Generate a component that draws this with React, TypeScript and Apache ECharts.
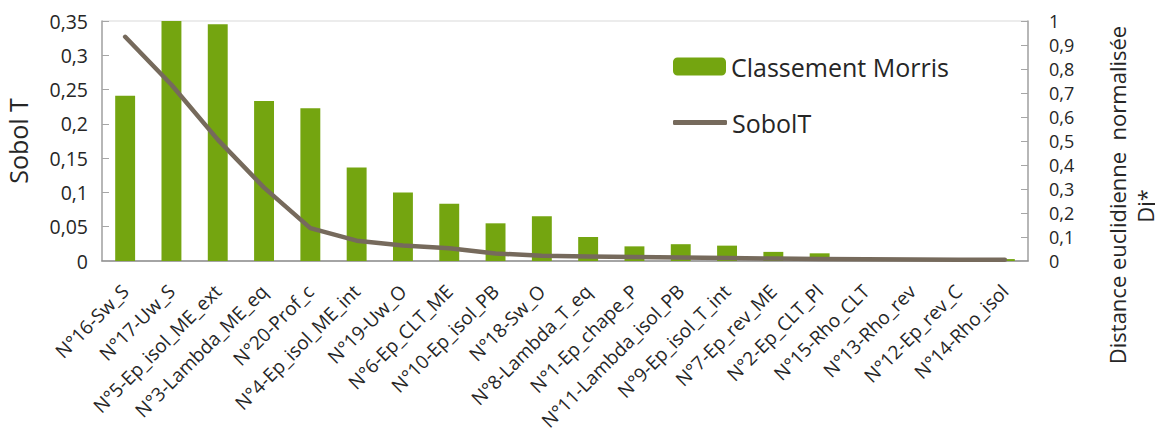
import React, { useEffect, useRef } from "react";
import * as echarts from "echarts";

const categories = [
  "N°16-Sw_S", "N°17-Uw_S", "N°5-Ep_isol_ME_ext", "N°3-Lambda_ME_eq", "N°20-Prof_c",
  "N°4-Ep_isol_ME_int", "N°19-Uw_O", "N°6-Ep_CLT_ME", "N°10-Ep_isol_PB", "N°18-Sw_O",
  "N°8-Lambda_T_eq", "N°1-Ep_chape_P", "N°11-Lambda_isol_PB", "N°9-Ep_isol_T_int", "N°7-Ep_rev_ME",
  "N°2-Ep_CLT_Pl", "N°15-Rho_CLT", "N°13-Rho_rev", "N°12-Ep_rev_C", "N°14-Rho_isol",
];

// Classement Morris (right axis, normalised distance Dj*)
const morris = [
  0.689, 1.0, 0.986, 0.667, 0.636, 0.39, 0.285, 0.239, 0.157, 0.186,
  0.1, 0.061, 0.07, 0.064, 0.038, 0.032, 0.008, 0.002, 0.008, 0.008,
];

// SobolT (left axis)
const sobolT = [
  0.327, 0.257, 0.177, 0.107, 0.048, 0.0296, 0.0225, 0.0185, 0.011, 0.0075,
  0.0065, 0.0058, 0.0052, 0.0045, 0.0035, 0.003, 0.0025, 0.0022, 0.002, 0.002,
];

const leftTicks = { min: 0, max: 0.35, interval: 0.05 };
const rightTicks = { min: 0, max: 1, interval: 0.1 };
const rightNameLines = ["Distance euclidienne  normalisée", "Dj*"];

const FONT = "'Open Sans', 'Noto Sans', sans-serif";
const TEXT = "#262626";

export default function App() {
  const ref = useRef<HTMLDivElement>(null);
  useEffect(() => {
    if (!ref.current) return;
    const chart = echarts.init(ref.current, undefined, { renderer: "svg" });
    const fmt = (v: number) => String(Math.round(v * 100) / 100).replace(".", ",");
    const legendText = { fontSize: 25, color: TEXT, fontFamily: FONT };
    chart.setOption({
      animation: false,
      textStyle: { fontFamily: FONT },
      grid: {
        left: 102,
        right: 135,
        top: 21,
        bottom: 178,
        show: true,
        borderColor: "#D9D9D9",
        borderWidth: 1,
        containLabel: false,
        outerBoundsMode: "none",
      },
      legend: [
        {
          left: 673,
          top: 54,
          padding: 0,
          itemWidth: 53,
          itemHeight: 18,
          textStyle: legendText,
          data: ["Classement Morris"],
        },
        {
          left: 673,
          top: 110,
          padding: 0,
          itemWidth: 54,
          itemHeight: 5,
          icon: "roundRect",
          textStyle: legendText,
          data: ["SobolT"],
        },
      ],
      graphic: [
        {
          type: "text",
          x: 1117,
          y: 195,
          rotation: Math.PI / 2,
          style: {
            text: rightNameLines[0],
            fontSize: 22,
            fontFamily: FONT,
            fill: TEXT,
            align: "center",
            verticalAlign: "middle",
          },
        },
        {
          type: "text",
          x: 1145,
          y: 206,
          rotation: Math.PI / 2,
          style: {
            text: rightNameLines[1],
            fontSize: 22,
            fontFamily: FONT,
            fill: TEXT,
            align: "center",
            verticalAlign: "middle",
          },
        },
      ],
      xAxis: {
        type: "category",
        data: categories,
        axisLine: { lineStyle: { color: "#8C8C8C", width: 1.5 } },
        axisTick: { show: false },
        axisLabel: {
          interval: 0,
          rotate: 45,
          fontSize: 19,
          color: TEXT,
          margin: 27,
          fontFamily: FONT,
        },
      },
      yAxis: [
        {
          type: "value",
          ...leftTicks,
          position: "left",
          name: "Sobol T",
          nameLocation: "middle",
          nameGap: 72,
          nameRotate: 90,
          nameTextStyle: { fontSize: 25, color: TEXT, fontFamily: FONT },
          axisLine: { show: true, lineStyle: { color: "#A6A6A6", width: 1.5 } },
          axisTick: { show: true, inside: true, length: 7, lineStyle: { color: "#A6A6A6" } },
          splitLine: { show: false },
          axisLabel: { formatter: fmt, fontSize: 19.5, color: TEXT, margin: 14, fontFamily: FONT },
        },
        {
          type: "value",
          ...rightTicks,
          position: "right",
          axisLine: { show: true, lineStyle: { color: "#A6A6A6", width: 1.5 } },
          axisTick: { show: true, inside: true, length: 7, lineStyle: { color: "#A6A6A6" } },
          splitLine: { show: false },
          axisLabel: { formatter: fmt, fontSize: 18, color: TEXT, margin: 21, fontFamily: FONT },
        },
      ],
      series: [
        {
          name: "Classement Morris",
          type: "bar",
          yAxisIndex: 1,
          data: morris,
          barWidth: "43%",
          itemStyle: { color: "#74A510" },
        },
        {
          name: "SobolT",
          type: "line",
          yAxisIndex: 0,
          data: sobolT,
          symbol: "none",
          lineStyle: { color: "#766A5C", width: 4.5, cap: "round", join: "round" },
          itemStyle: { color: "#766A5C" },
        },
      ],
    });
    return () => chart.dispose();
  }, []);
  return <div ref={ref} style={{ width: 1163, height: 439, marginLeft: -8, marginTop: -8 }} />;
}
